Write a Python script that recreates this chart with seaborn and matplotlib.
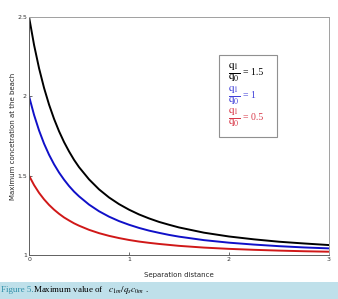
import numpy as np
import pandas as pd
import matplotlib
matplotlib.use('Agg')
import matplotlib.pyplot as plt
import seaborn as sns
from matplotlib.patches import Rectangle

# values
distance = [0, 0.05, 0.1, 0.15, 0.2, 0.25, 0.3, 0.35, 0.4, 0.45, 0.5,
            0.6, 0.7, 0.8, 0.9, 1.0, 1.1, 1.2, 1.3, 1.4, 1.5,
            1.75, 2.0, 2.25, 2.5, 2.75, 3.0]
conc_15 = [2.500, 2.324, 2.177, 2.053, 1.948, 1.858, 1.780, 1.712, 1.653, 1.600, 1.554,
           1.477, 1.414, 1.363, 1.321, 1.286, 1.256, 1.231, 1.209, 1.191, 1.174,
           1.141, 1.117, 1.099, 1.084, 1.073, 1.063]
conc_10 = [2.000, 1.883, 1.785, 1.702, 1.632, 1.572, 1.520, 1.475, 1.435, 1.400, 1.370,
           1.318, 1.276, 1.242, 1.214, 1.191, 1.171, 1.154, 1.140, 1.127, 1.116,
           1.094, 1.078, 1.066, 1.056, 1.048, 1.042]
conc_05 = [1.500, 1.441, 1.392, 1.351, 1.316, 1.286, 1.260, 1.237, 1.218, 1.200, 1.185,
           1.159, 1.138, 1.121, 1.107, 1.095, 1.085, 1.077, 1.070, 1.064, 1.058,
           1.047, 1.039, 1.033, 1.028, 1.024, 1.021]
ratios = ['1.5', '1', '0.5']
colors = ['black', '#1010c8', '#d01818']
text_colors = ['black', '#4040d8', '#d83848']

df = pd.DataFrame({
    'distance': distance * 3,
    'conc': conc_15 + conc_10 + conc_05,
    'ratio': [r for r in ratios for _ in distance],
})

sns.set_style('white')
plt.rcParams['mathtext.fontset'] = 'stix'

fig = plt.figure(figsize=(3.38, 2.99), dpi=100)
ax = fig.add_axes([0.086, 0.147, 0.887, 0.796])

sns.lineplot(data=df, x='distance', y='conc', hue='ratio', hue_order=ratios,
             palette=colors, linewidth=1.4, ax=ax, legend=False)

ax.set_xlim(0, 3)
ax.set_ylim(1, 2.5)
ax.set_xticks([0, 1, 2, 3])
ax.set_xticklabels(['0', '1', '2', '3'])
ax.set_yticks([1, 1.5, 2, 2.5])
ax.set_yticklabels(['1', '1.5', '2', '2.5'])
ax.tick_params(axis='both', direction='in', length=2, width=0.5,
               labelsize=4.5, pad=1.5, colors='#333333', bottom=True, left=True)
for s in ax.spines.values():
    s.set_color('#a0a0a0')
    s.set_linewidth(0.7)
ax.spines['left'].set_color('#606060')
ax.spines['bottom'].set_color('#606060')
ax.set_xlabel('Separation distance', fontsize=5, labelpad=7)
ax.set_ylabel('Maximum concetration at the beach', fontsize=5, labelpad=1)

# legend box drawn as text
ax.add_patch(Rectangle((0.633, 0.497), 0.195, 0.345, transform=ax.transAxes,
                       fill=False, edgecolor='#909090', linewidth=0.8))
for i, (r, c) in enumerate(zip(ratios, text_colors)):
    y = 0.766 - i * 0.095
    ax.text(0.662, y, r'$\frac{\mathrm{q}_1}{\mathrm{q}_0}$',
            transform=ax.transAxes, color=c, fontsize=11.5, va='center')
    ax.text(0.713, y, '= ' + r, transform=ax.transAxes, color=c,
            fontsize=7, family='Liberation Serif', va='center')

# caption band
fig.patches.append(Rectangle((0, 0), 1, 0.058, transform=fig.transFigure,
                             facecolor='#bfe0ea', edgecolor='none'))
fig.text(0.002, 0.029, 'Figure 5.', color='#2f8fa8', fontsize=6.5,
         family='Liberation Serif', va='center')
fig.text(0.098, 0.029, r'Maximum value of   $c_{1m}/q_s c_{0m}$ .', color='black',
         fontsize=6.5, family='Liberation Serif', va='center')

fig.savefig('out.png', dpi=100)
